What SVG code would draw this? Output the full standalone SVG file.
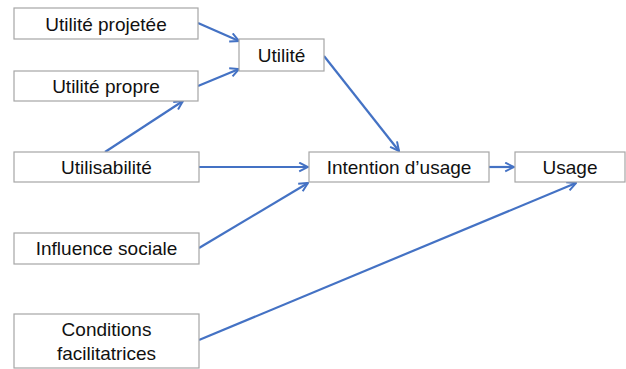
<svg xmlns="http://www.w3.org/2000/svg" width="626" height="369" viewBox="0 0 626 369">
<style>
.box{fill:#fff;stroke:#a6a6a6;stroke-width:1.2}
.t{font-family:"Liberation Sans",Arial,sans-serif;font-size:19px;fill:#111;text-anchor:middle}
.c{stroke:#4472c4;stroke-width:2.2;fill:none;marker-end:url(#ah)}
.n{stroke:#4472c4;stroke-width:2.2;fill:none}
</style>
<defs>
<marker id="ah" viewBox="0 0 10 10" refX="9" refY="5" markerWidth="5" markerHeight="5" orient="auto" markerUnits="strokeWidth">
<polyline points="1,1 9,5 1,9" fill="none" stroke="#4472c4" stroke-width="1.8" stroke-linejoin="miter"/>
</marker>
</defs>
<g id="connectors">
<line class="c" x1="198" y1="23" x2="239" y2="41"/>
<line class="c" x1="198" y1="86" x2="239" y2="69"/>
<line class="c" x1="105" y1="152" x2="183" y2="101"/>
<line class="c" x1="324" y1="56" x2="399" y2="151"/>
<line class="c" x1="199" y1="167" x2="308" y2="167"/>
<line class="c" x1="199" y1="248" x2="308" y2="183"/>
<line class="c" x1="489" y1="167" x2="514" y2="167"/>
<line class="c" x1="199" y1="340" x2="576" y2="183"/>
</g>
<g id="n1"><rect class="box" x="14" y="8" width="184" height="31"/><text class="t" x="106" y="30.5">Utilité projetée</text></g>
<g id="n2"><rect class="box" x="14" y="71" width="184" height="30"/><text class="t" x="106" y="93">Utilité propre</text></g>
<g id="n3"><rect class="box" x="239" y="39" width="85" height="32"/><text class="t" x="281.5" y="61.5">Utilité</text></g>
<g id="n4"><rect class="box" x="14" y="152" width="185" height="30"/><text class="t" x="106.5" y="174">Utilisabilité</text></g>
<g id="n5"><rect class="box" x="309" y="152" width="180" height="30"/><text class="t" x="399" y="174">Intention d’usage</text></g>
<g id="n6"><rect class="box" x="515" y="152" width="110" height="30"/><text class="t" x="570" y="174">Usage</text></g>
<g id="n7"><rect class="box" x="14" y="233" width="185" height="31"/><text class="t" x="106.5" y="255">Influence sociale</text></g>
<g id="n8"><rect class="box" x="14" y="314" width="185" height="54"/><text class="t" x="106.5" y="336">Conditions</text><text class="t" x="106.5" y="360">facilitatrices</text></g>
</svg>
